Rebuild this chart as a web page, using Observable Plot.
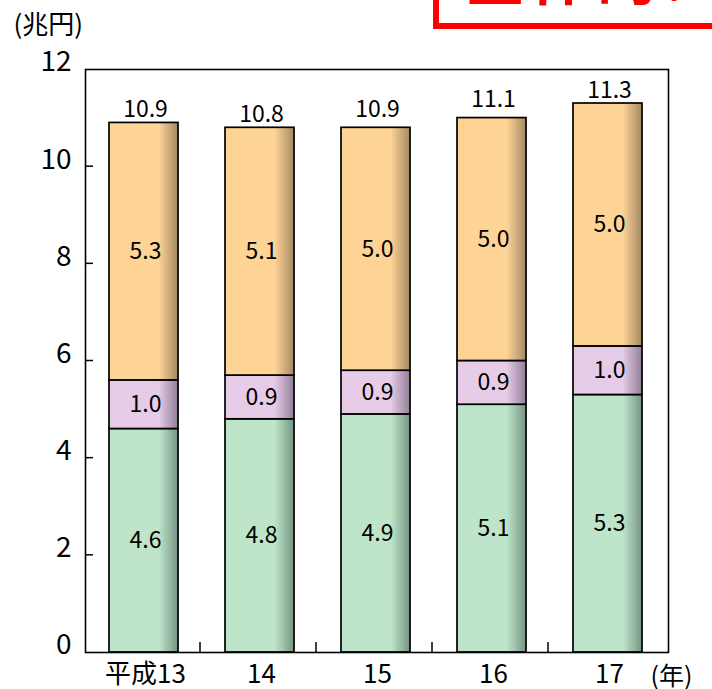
<!DOCTYPE html>
<html><head><meta charset="utf-8">
<script src="https://cdn.jsdelivr.net/npm/d3@7"></script>
<script src="https://cdn.jsdelivr.net/npm/@observablehq/plot@0.6"></script>
<style>
body{margin:0;background:#fff;}
#wrap{position:relative;width:712px;height:689px;overflow:hidden;}
#badge{position:absolute;left:433px;top:-50px;width:320px;height:67px;border:6px solid #f00;overflow:hidden;}
#badge span{position:absolute;left:26px;top:-12px;font:bold 60px/60px "Noto Sans CJK JP",sans-serif;color:#f00;letter-spacing:6px;white-space:nowrap;}
#chart{position:absolute;left:0;top:0;}
</style></head>
<body>
<div id="wrap">
  <div id="chart"></div>
  <div id="badge"><span>全体的!</span></div>
</div>
<script>
const years = ["平成13", "14", "15", "16", "17"];
const seriesNames = ["下段", "中段", "上段"];
const greenValues = [4.6, 4.8, 4.9, 5.1, 5.3];
const purpleValues = [1.0, 0.9, 0.9, 0.9, 1.0];
const orangeValues = [5.3, 5.1, 5.0, 5.0, 5.0];
const totals = [10.9, 10.8, 10.9, 11.1, 11.3];
const yTicks = [0, 2, 4, 6, 8, 10, 12];

const seriesValues = [greenValues, purpleValues, orangeValues];
const rows = [];
seriesNames.forEach((s, si) => years.forEach((y, i) => rows.push({year: y, series: s, value: seriesValues[si][i]})));
const totalRows = years.map((y, i) => ({year: y, total: totals[i]}));

const font = '"Noto Sans CJK JP", sans-serif';

const tickMarks = (index, scales, values, dimensions) => {
  const g = d3.create("svg:g").attr("stroke", "#000").attr("stroke-width", 1.5);
  const {marginLeft, height, marginBottom} = dimensions;
  for (const v of yTicks.slice(1, -1)) {
    const y = scales.y(v);
    g.append("line").attr("x1", marginLeft).attr("x2", marginLeft + 8).attr("y1", y).attr("y2", y);
  }
  for (const yr of years.slice(1)) {
    const x = scales.x(yr) - 3;
    g.append("line").attr("x1", x).attr("x2", x).attr("y1", height - marginBottom).attr("y2", height - marginBottom - 10);
  }
  return g.node();
};

const chart = Plot.plot({
  width: 712, height: 689,
  marginLeft: 85, marginRight: 44, marginTop: 69, marginBottom: 37,
  style: {fontFamily: font, fontSize: "23px", color: "#000", background: "transparent", overflow: "visible"},
  x: {domain: years, padding: 0},
  y: {domain: [0, 12]},
  color: {domain: seriesNames, range: ["url(#gG)", "url(#gP)", "url(#gO)"]},
  marks: [
    Plot.barY(rows, Plot.stackY({x: "year", y: "value", fill: "series", insetLeft: 22, insetRight: 25, stroke: "#000", strokeWidth: 1.7})),
    Plot.text(rows, Plot.stackY({x: "year", y: "value", z: "series", text: d => d.value.toFixed(1), fontSize: 23, fill: "#000", style: "letter-spacing:1.5px"})),
    Plot.text(totalRows, {x: "year", y: "total", text: d => d.total.toFixed(1), lineAnchor: "bottom", dy: -6, fontSize: 23, fill: "#000"}),
    Plot.frame({stroke: "#000", strokeWidth: 1.6}),
    Plot.axisY(yTicks, {tickSize: 0, tickPadding: 14, dy: -7, fontSize: 28, label: null, tickFormat: d => String(d)}),
    Plot.axisX({tickSize: 0, tickPadding: 12, fontSize: 26, label: null}),
    tickMarks,
    Plot.text(["(兆円)"], {frameAnchor: "top-left", text: d => d, textAnchor: "start", lineAnchor: "middle", dx: -72, dy: -44, fontSize: 26}),
    Plot.text(["(年)"], {frameAnchor: "bottom-right", text: d => d, textAnchor: "start", lineAnchor: "middle", dx: -18, dy: 24, fontSize: 25})
  ]
});

const defs = d3.select(chart).insert("defs", ":first-child");
const grads = [["gG", "#BEE5C9", "#769483"], ["gP", "#E6CCE6", "#937E98"], ["gO", "#FED396", "#A48962"]];
for (const [id, base, dark] of grads) {
  const lg = defs.append("linearGradient").attr("id", id).attr("x1", 0).attr("x2", 1).attr("y1", 0).attr("y2", 0);
  lg.append("stop").attr("offset", 0).attr("stop-color", base);
  lg.append("stop").attr("offset", 0.72).attr("stop-color", base);
  lg.append("stop").attr("offset", 1).attr("stop-color", dark);
}
document.getElementById("chart").appendChild(chart);
</script>
</body></html>
